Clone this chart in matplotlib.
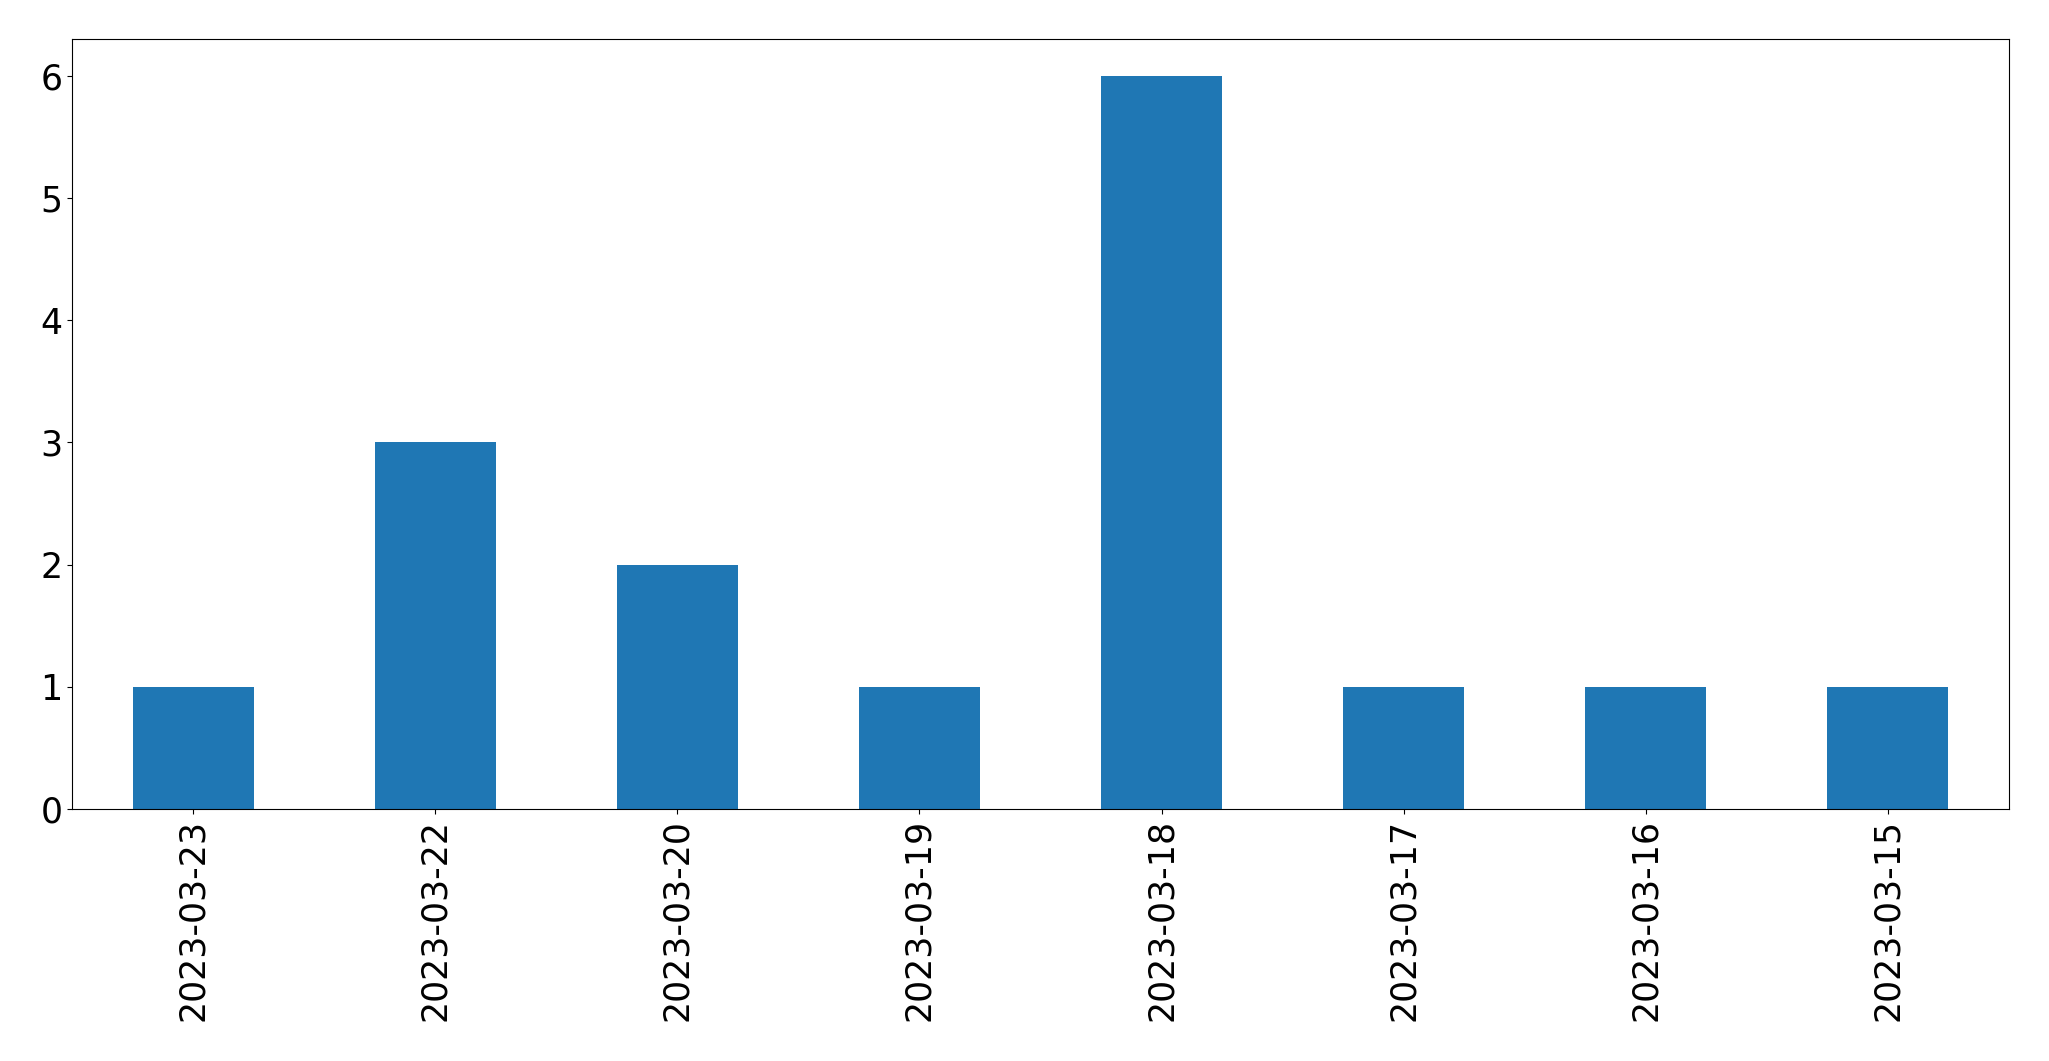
import matplotlib
matplotlib.use("Agg")
import matplotlib.pyplot as plt

dates = ["2023-03-23", "2023-03-22", "2023-03-20", "2023-03-19",
         "2023-03-18", "2023-03-17", "2023-03-16", "2023-03-15"]
counts = [1, 3, 2, 1, 6, 1, 1, 1]

fig = plt.figure(figsize=(20.49, 10.61), dpi=100)
ax = fig.add_axes([72/2049, 1-809/1061, (2009-72)/2049, (809-39)/1061])
x = list(range(len(dates)))
ax.bar(x, counts, width=0.5, color="#1f77b4")
ax.set_xlim(-0.5, len(dates) - 0.5)
ax.set_ylim(0, max(counts) * 1.05)
ax.set_xticks(x)
ax.set_xticklabels(dates, rotation=90)
ax.tick_params(labelsize=25)
fig.savefig("out.png", dpi=100)
